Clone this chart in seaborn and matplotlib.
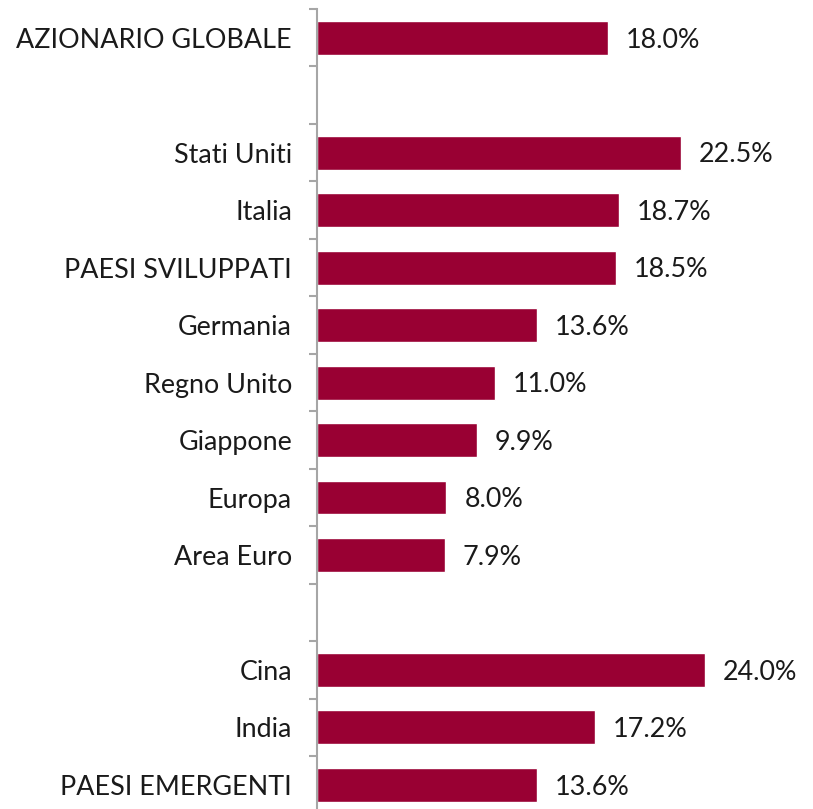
import matplotlib
matplotlib.use("Agg")
import matplotlib.pyplot as plt
import seaborn as sns
import pandas as pd
import numpy as np
from matplotlib.ticker import FixedLocator

categories = ["AZIONARIO GLOBALE", " ", "Stati Uniti", "Italia", "PAESI SVILUPPATI",
              "Germania", "Regno Unito", "Giappone", "Europa", "Area Euro", "  ",
              "Cina", "India", "PAESI EMERGENTI"]
names = ["AZIONARIO GLOBALE", "Stati Uniti", "Italia", "PAESI SVILUPPATI",
         "Germania", "Regno Unito", "Giappone", "Europa", "Area Euro",
         "Cina", "India", "PAESI EMERGENTI"]
values = [18.0, 22.5, 18.7, 18.5, 13.6, 11.0, 9.9, 8.0, 7.9, 24.0, 17.2, 13.6]

df = pd.DataFrame({"name": names, "value": values})

sns.set_theme(style="white")
plt.rcParams["font.family"] = ["Lato", "DejaVu Sans"]

fig = plt.figure(figsize=(8.13, 8.09), dpi=100)
ax = fig.add_axes([317 / 813, 0, 1 - 317 / 813, 1 - 9 / 809])

sns.barplot(data=df, x="value", y="name", order=categories, color="#990033",
            saturation=1, width=0.59, ax=ax)

ax.set_xlim(0, 30.7)
ax.set_ylim(13.42, -0.5)
ax.set_xlabel("")
ax.set_ylabel("")
ax.set_xticks([])

for s in ["top", "right", "bottom"]:
    ax.spines[s].set_visible(False)
ax.spines["left"].set_color("#a6a6a6")
ax.spines["left"].set_linewidth(1.5)

ax.yaxis.set_minor_locator(FixedLocator(np.arange(-0.5, 14, 1.0)))
ax.tick_params(axis="y", which="major", length=0, pad=18, labelsize=19.4,
               labelcolor="#1a1a1a")
ax.tick_params(axis="y", which="minor", length=6, width=1.5, color="#a6a6a6",
               left=True)

pos = {c: i for i, c in enumerate(categories)}
for n, v in zip(names, values):
    ax.annotate(f"{v:.1f}%", xy=(v, pos[n] + 0.04), xytext=(13, 0),
                textcoords="offset points", va="center", ha="left",
                fontsize=19.4, color="#1a1a1a")

fig.savefig("out.png", dpi=100)
